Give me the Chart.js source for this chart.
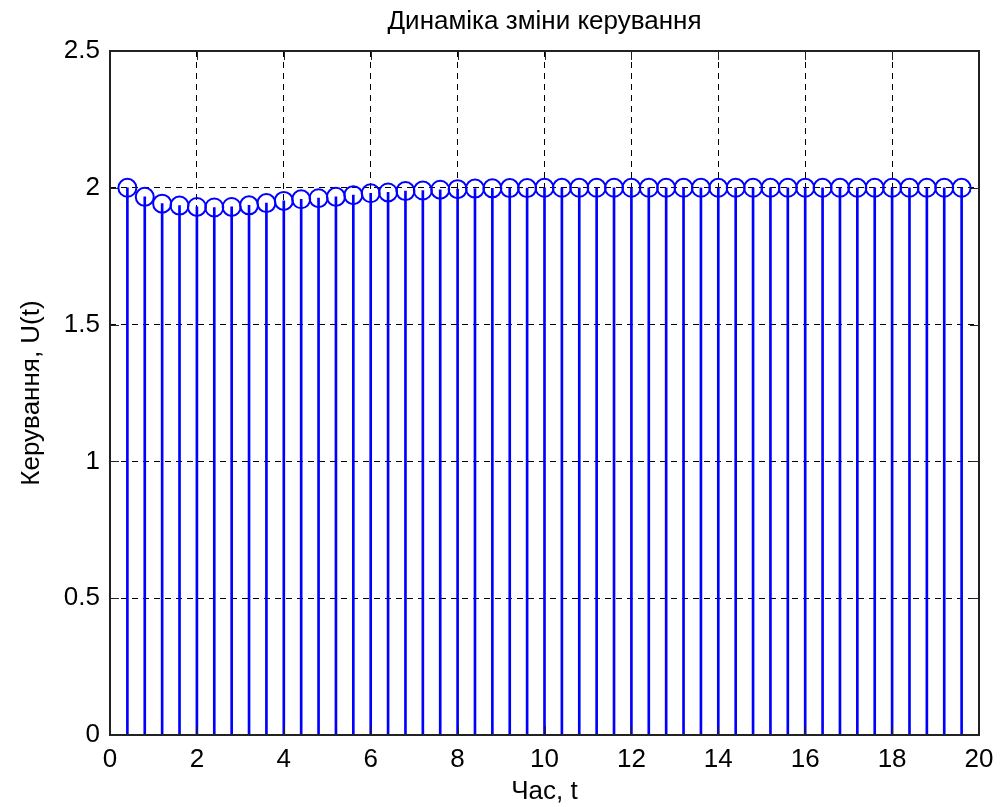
<!DOCTYPE html>
<html>
<head>
<meta charset="utf-8">
<title>Динаміка зміни керування</title>
<script src="https://cdn.jsdelivr.net/npm/chart.js@4/dist/chart.umd.min.js"></script>
<style>
  html, body { margin: 0; padding: 0; background: #fff; }
  #wrap { width: 1006px; height: 807px; }
</style>
</head>
<body>
<div id="wrap"><canvas id="grafico" width="1006" height="807"></canvas></div>
<script>
// моменти часу (крок 0.4)
const timeValues = [
  0.4, 0.8, 1.2, 1.6, 2.0, 2.4, 2.8, 3.2, 3.6, 4.0,
  4.4, 4.8, 5.2, 5.6, 6.0, 6.4, 6.8, 7.2, 7.6, 8.0,
  8.4, 8.8, 9.2, 9.6, 10.0, 10.4, 10.8, 11.2, 11.6, 12.0,
  12.4, 12.8, 13.2, 13.6, 14.0, 14.4, 14.8, 15.2, 15.6, 16.0,
  16.4, 16.8, 17.2, 17.6, 18.0, 18.4, 18.8, 19.2, 19.6
];

// значення керування U(t)
const controlValues = [
  2.000, 1.967, 1.942, 1.935, 1.930, 1.928, 1.930, 1.936, 1.944, 1.952,
  1.958, 1.962, 1.967, 1.973, 1.980, 1.983, 1.988, 1.990, 1.993, 1.995,
  1.997, 1.998, 1.999, 1.999, 2.000, 2.000, 2.000, 2.000, 2.000, 2.000,
  2.000, 2.000, 2.000, 2.000, 2.000, 2.000, 2.000, 2.000, 2.000, 2.000,
  2.000, 2.000, 2.000, 2.000, 2.000, 2.000, 2.000, 2.000, 2.000
];

const xTicks = [0, 2, 4, 6, 8, 10, 12, 14, 16, 18, 20];
const yTicks = [0, 0.5, 1, 1.5, 2, 2.5];

const chartTitle = "Динаміка зміни керування";
const fontFamily = "'Liberation Sans', Arial, sans-serif";
const points = timeValues.map((t, i) => ({ x: t, y: controlValues[i] }));

// рамка осей, риски всередину і заголовок по центру області графіка
const axesBox = {
  id: "axesBox",
  afterDatasetsDraw(chart) {
    const { ctx, chartArea: a, scales } = chart;
    const len = 9;
    ctx.save();
    ctx.strokeStyle = "#222";
    ctx.lineWidth = 1;
    ctx.beginPath();
    xTicks.forEach((v) => {
      const px = Math.round(scales.x.getPixelForValue(v)) + 0.5;
      ctx.moveTo(px, a.bottom); ctx.lineTo(px, a.bottom - len);
      ctx.moveTo(px, a.top); ctx.lineTo(px, a.top + len);
    });
    yTicks.forEach((v) => {
      const py = Math.round(scales.y.getPixelForValue(v)) + 0.5;
      ctx.moveTo(a.left, py); ctx.lineTo(a.left + len, py);
      ctx.moveTo(a.right, py); ctx.lineTo(a.right - len, py);
    });
    ctx.stroke();
    ctx.lineWidth = 2;
    ctx.strokeRect(a.left, a.top, a.right - a.left, a.bottom - a.top);

    ctx.fillStyle = "#000";
    ctx.font = "26px " + fontFamily;
    ctx.textAlign = "center";
    ctx.textBaseline = "middle";
    ctx.fillText(chartTitle, (a.left + a.right) / 2, a.top - 29);
    ctx.restore();
  }
};

const ctx = document.getElementById("grafico").getContext("2d");

const chart = new Chart(ctx, {
  type: "bar",
  data: {
    datasets: [
      {
        type: "line",
        label: "U(t)",
        data: points,
        showLine: false,
        pointStyle: "circle",
        pointRadius: 9,
        pointBorderWidth: 2,
        pointBorderColor: "#0000ff",
        pointBackgroundColor: "rgba(0,0,0,0)",
        order: 0
      },
      {
        type: "bar",
        label: "stem",
        data: points,
        backgroundColor: "#0000ff",
        borderWidth: 0,
        barThickness: 2,
        order: 1
      }
    ]
  },
  options: {
    responsive: false,
    animation: false,
    devicePixelRatio: 1,
    layout: { padding: { left: 0, right: 27, top: 51, bottom: 0 } },
    plugins: {
      legend: { display: false },
      tooltip: { enabled: false },
      title: { display: false }
    },
    scales: {
      x: {
        type: "linear",
        min: 0,
        max: 20,
        offset: false,
        afterBuildTicks(scale) {
          scale.ticks = xTicks.map((v) => ({ value: v }));
        },
        afterFit(scale) { scale.height = 72; },
        ticks: {
          color: "#000",
          padding: 9,
          maxRotation: 0,
          font: { family: fontFamily, size: 26 },
          callback: (v) => String(v)
        },
        grid: { color: "#000", lineWidth: 1, drawTicks: false, offset: false },
        border: { display: false, dash: [6, 5] },
        title: {
          display: true,
          text: "Час, t",
          color: "#000",
          font: { family: fontFamily, size: 26 },
          padding: { top: 0, bottom: 0 }
        }
      },
      y: {
        type: "linear",
        min: 0,
        max: 2.5,
        afterBuildTicks(scale) {
          scale.ticks = yTicks.map((v) => ({ value: v }));
        },
        afterFit(scale) { scale.width = 110; },
        ticks: {
          color: "#000",
          padding: 10,
          font: { family: fontFamily, size: 26 },
          callback: (v) => String(v)
        },
        grid: { color: "#000", lineWidth: 1, drawTicks: false },
        border: { display: false, dash: [6, 5] },
        title: {
          display: true,
          text: "Керування, U(t)",
          color: "#000",
          font: { family: fontFamily, size: 26 },
          padding: { top: 16, bottom: 0 }
        }
      }
    }
  },
  plugins: [axesBox]
});
</script>
</body>
</html>
